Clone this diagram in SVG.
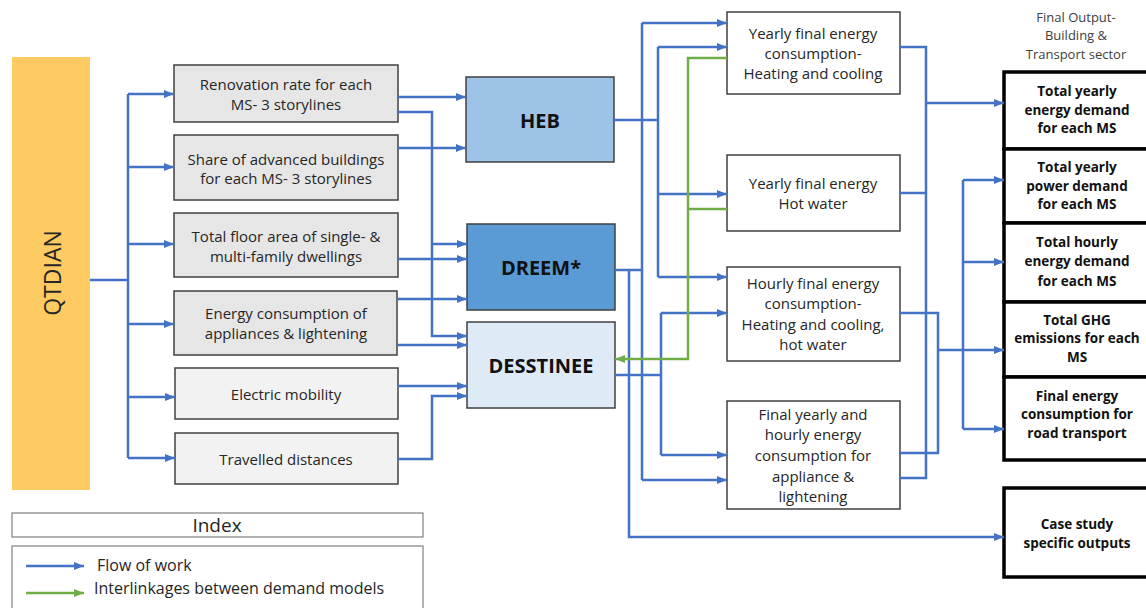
<svg xmlns="http://www.w3.org/2000/svg" width="1146" height="608" viewBox="0 0 1146 608">
<defs>
<marker id="ab" markerUnits="userSpaceOnUse" markerWidth="10" markerHeight="8" refX="10" refY="4" orient="auto"><path d="M0,0 L10,4 L0,8 z" fill="#4472C4"/></marker>
<marker id="ag" markerUnits="userSpaceOnUse" markerWidth="10" markerHeight="8" refX="10" refY="4" orient="auto"><path d="M0,0 L10,4 L0,8 z" fill="#70AD47"/></marker>
<style>
text{font-family:"Open Sans","Noto Sans",sans-serif;dominant-baseline:central;text-anchor:middle}
.t{font-size:15px;fill:#262626}
.b{font-size:20px;font-weight:bold;fill:#111}
.o{font-size:13.5px;font-weight:bold;fill:#111}
.in{fill:#E7E6E6;stroke:#404040;stroke-width:1.5}
.in2{fill:#F2F2F2;stroke:#404040;stroke-width:1.5}
.mid{fill:#fff;stroke:#404040;stroke-width:1.5}
.out{fill:#fff;stroke:#000;stroke-width:3.5}
.c path{fill:none;stroke:#4472C4;stroke-width:2.5}
.c path.a{marker-end:url(#ab)}
.c path.g{stroke:#70AD47}
.c path.ga{stroke:#70AD47;marker-end:url(#ag)}
</style>
</defs>
<rect width="1146" height="608" fill="#fff"/>

<g id="qtdian">
<rect x="12" y="57" width="78" height="433" fill="#FECA62"/>
<text transform="translate(52,273) rotate(-90)" style="font-size:23px;fill:#262626">QTDIAN</text>
</g>

<g id="in1"><rect class="in" x="174" y="65" width="224" height="57"/>
<text class="t" x="286" y="84">Renovation rate for each</text><text class="t" x="286" y="104">MS- 3 storylines</text></g>
<g id="in2"><rect class="in" x="174" y="135" width="224" height="65"/>
<text class="t" x="286" y="159">Share of advanced buildings</text><text class="t" x="286" y="178">for each MS- 3 storylines</text></g>
<g id="in3"><rect class="in" x="174" y="213" width="224" height="64"/>
<text class="t" x="286" y="236">Total floor area of single- &amp;</text><text class="t" x="286" y="256">multi-family dwellings</text></g>
<g id="in4"><rect class="in" x="174" y="291" width="223" height="64"/>
<text class="t" x="286" y="313">Energy consumption of</text><text class="t" x="286" y="333">appliances &amp; lightening</text></g>
<g id="in5"><rect class="in2" x="175" y="368" width="223" height="51"/>
<text class="t" x="286" y="394">Electric mobility</text></g>
<g id="in6"><rect class="in2" x="175" y="433" width="223" height="51"/>
<text class="t" x="286" y="459">Travelled distances</text></g>

<g id="heb"><rect x="466" y="77" width="148" height="85" fill="#9DC3E6" stroke="#404040" stroke-width="1.5"/>
<text class="b" x="540" y="120">HEB</text></g>
<g id="dreem"><rect x="467" y="224" width="148" height="86" fill="#5B9BD5" stroke="#404040" stroke-width="1.5"/>
<text class="b" x="541" y="267">DREEM*</text></g>
<g id="desstinee"><rect x="467" y="322" width="148" height="86" fill="#DEEBF7" stroke="#404040" stroke-width="1.5"/>
<text class="b" x="541" y="365">DESSTINEE</text></g>

<g id="m1"><rect class="mid" x="727" y="12" width="173" height="82"/>
<text class="t" x="813" y="33">Yearly final energy</text><text class="t" x="813" y="53">consumption-</text><text class="t" x="813" y="73">Heating and cooling</text></g>
<g id="m2"><rect class="mid" x="727" y="155" width="173" height="76"/>
<text class="t" x="813" y="183">Yearly final energy</text><text class="t" x="813" y="203">Hot water</text></g>
<g id="m3"><rect class="mid" x="727" y="267" width="173" height="94"/>
<text class="t" x="813" y="283">Hourly final energy</text><text class="t" x="813" y="303">consumption-</text><text class="t" x="813" y="324">Heating and cooling,</text><text class="t" x="813" y="344">hot water</text></g>
<g id="m4"><rect class="mid" x="727" y="401" width="173" height="108"/>
<text class="t" x="813" y="414">Final yearly and</text><text class="t" x="813" y="434">hourly energy</text><text class="t" x="813" y="455">consumption for</text><text class="t" x="813" y="476">appliance &amp;</text><text class="t" x="813" y="496">lightening</text></g>

<g id="outtitle"><text x="1076" y="17" style="font-size:13px;fill:#404040">Final Output-</text><text x="1076" y="35" style="font-size:13px;fill:#404040">Building &amp;</text><text x="1076" y="54" style="font-size:13px;fill:#404040">Transport sector</text></g>
<g id="o1"><rect class="out" x="1004" y="72" width="150" height="77"/>
<text class="o" x="1077" y="91">Total yearly</text><text class="o" x="1077" y="110">energy demand</text><text class="o" x="1077" y="128">for each MS</text></g>
<g id="o2"><rect class="out" x="1004" y="149" width="150" height="74"/>
<text class="o" x="1077" y="167">Total yearly</text><text class="o" x="1077" y="186">power demand</text><text class="o" x="1077" y="204">for each MS</text></g>
<g id="o3"><rect class="out" x="1004" y="223" width="150" height="79"/>
<text class="o" x="1077" y="242">Total hourly</text><text class="o" x="1077" y="261">energy demand</text><text class="o" x="1077" y="281">for each MS</text></g>
<g id="o4"><rect class="out" x="1004" y="302" width="150" height="75"/>
<text class="o" x="1077" y="320">Total GHG</text><text class="o" x="1077" y="338">emissions for each</text><text class="o" x="1077" y="357">MS</text></g>
<g id="o5"><rect class="out" x="1004" y="377" width="150" height="83"/>
<text class="o" x="1077" y="396">Final energy</text><text class="o" x="1077" y="414">consumption for</text><text class="o" x="1077" y="433">road transport</text></g>
<g id="o6"><rect class="out" x="1004" y="488" width="150" height="89"/>
<text class="o" x="1077" y="524">Case study</text><text class="o" x="1077" y="543">specific outputs</text></g>

<g id="connectors" class="c">
<path d="M90,280 H128 M128,94 V458"/>
<path class="a" d="M128,94 H174"/>
<path class="a" d="M128,167 H174"/>
<path class="a" d="M128,244 H174"/>
<path class="a" d="M128,324 H174"/>
<path class="a" d="M128,397 H175"/>
<path class="a" d="M128,458 H175"/>

<path class="a" d="M398,97 H466"/>
<path class="a" d="M398,112 H432 V336 H467"/>
<path class="a" d="M432,244 H467"/>
<path class="a" d="M398,148 H466"/>
<path class="a" d="M398,259 H467"/>
<path class="a" d="M398,299 H467"/>
<path class="a" d="M398,345 H467"/>
<path class="a" d="M398,386 H467"/>
<path class="a" d="M398,459 H432 V396 H467"/>

<path d="M614,120 H658 M658,47 V277"/>
<path class="a" d="M658,47 H727"/>
<path class="a" d="M658,194 H727"/>
<path class="a" d="M658,277 H727"/>
<path d="M615,270 H642 M642,23 V480"/>
<path class="a" d="M642,23 H727"/>
<path class="a" d="M642,480 H727"/>
<path class="a" d="M629,270 V537 H1004"/>
<path d="M615,375 H661 M661,313 V455"/>
<path class="a" d="M661,313 H727"/>
<path class="a" d="M661,455 H727"/>
<path class="ga" d="M727,58 H688 V359 H615"/>
<path class="g" d="M727,209 H688"/>

<path d="M900,47 H926 V478 H900 M900,193 H926"/>
<path class="a" d="M926,103 H1004"/>
<path d="M900,313 H938 V453 H900 M963,180 V429"/>
<path class="a" d="M938,350 H1004"/>
<path class="a" d="M963,180 H1004"/>
<path class="a" d="M963,262 H1004"/>
<path class="a" d="M963,429 H1004"/>
</g>

<g id="index">
<rect x="12" y="513" width="411" height="24" fill="#fff" stroke="#808080" stroke-width="1.2"/>
<text x="217" y="525" style="font-size:19px;fill:#262626">Index</text>
<rect x="12" y="546" width="411" height="70" fill="#fff" stroke="#808080" stroke-width="1.2"/>
<g class="c"><path class="a" d="M26,566 H84"/><path class="ga" d="M26,593 H84"/></g>
<text x="97" y="565" style="font-size:16px;fill:#262626;text-anchor:start">Flow of work</text>
<text x="94" y="588" style="font-size:16px;fill:#262626;text-anchor:start">Interlinkages between demand models</text>
</g>
</svg>
